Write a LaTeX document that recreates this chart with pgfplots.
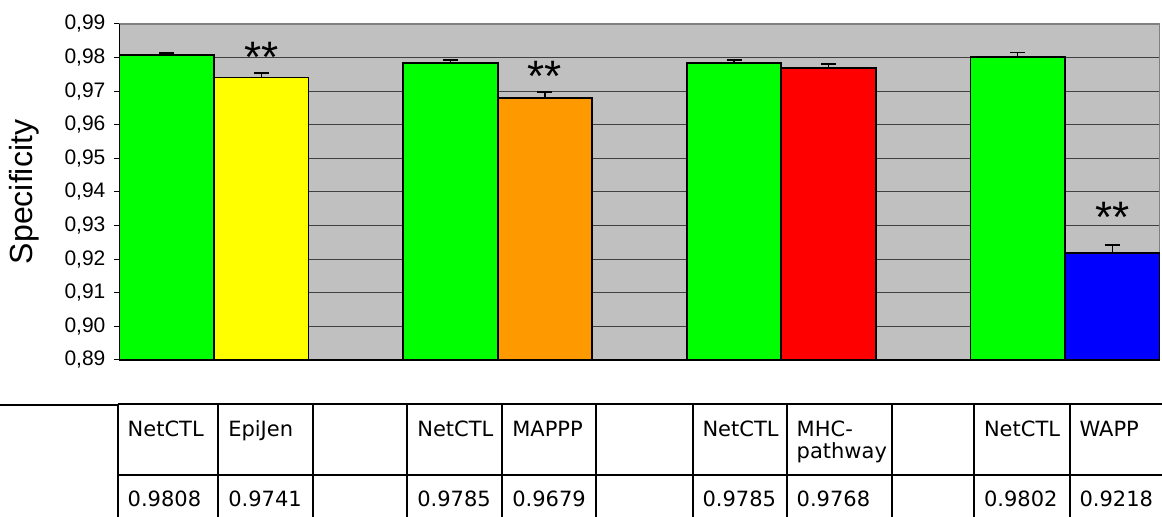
\documentclass[border=0pt]{standalone}
\usepackage{pgfplots}
\pgfplotsset{compat=1.18}
\usepackage{fontspec}
\setmainfont{Liberation Sans}
\newfontfamily\tablefont{DejaVu Sans}

\definecolor{barGreen}{HTML}{00FF00}
\definecolor{barYellow}{HTML}{FFFF00}
\definecolor{barOrange}{HTML}{FF9900}
\definecolor{barRed}{HTML}{FF0000}
\definecolor{barBlue}{HTML}{0000FF}
\definecolor{plotBg}{HTML}{C0C0C0}

\begin{document}
\begin{tikzpicture}
\path[use as bounding box] (0,0) rectangle (581pt,-258.5pt);

\begin{axis}[
    at={(59.75pt,-180pt)}, anchor=south west,
    scale only axis,
    width=520pt, height=168pt,
    ybar=0pt,
    bar width=0.3333,
    xmin=-0.3333, xmax=3.3333,
    ymin=0.89, ymax=0.99,
    ytick={0.89,0.90,...,0.995},
    xtick=\empty,
    ytick pos=left,
    tick align=outside,
    major tick length=2.5pt,
    tick style={black, line width=0.5pt},
    yticklabel style={
        /pgf/number format/.cd, fixed, fixed zerofill, precision=2, use comma, assume math mode=true,
        /tikz/.cd, font=\fontsize{10.5}{12}\selectfont, xshift=-1pt},
    ylabel={Specificity},
    every axis y label/.style={at={(rel axis cs:0,0.5)}, xshift=-47.75pt, rotate=90, anchor=center,
        font=\fontsize{16}{19}\selectfont},
    axis background/.style={fill=plotBg},
    axis line style={draw=gray, line width=0.75pt},
    ymajorgrids,
    major grid style={black!75, line width=0.5pt},
    clip=false,
    every axis plot/.append style={draw=black, line width=0.9pt},
    error bars/y dir=plus,
    error bars/y explicit,
    error bars/error bar style={black, line width=0.6pt},
    error bars/error mark options={black, line width=0.9pt, mark size=3.75pt, rotate=90},
]
% NetCTL
\addplot[fill=barGreen, bar shift=-0.16667] coordinates {
    (0,0.9808) +- (0,0.0005)
    (1,0.9785) +- (0,0.0008)
    (2,0.9785) +- (0,0.0008)
    (3,0.9802) +- (0,0.0013)
};
% EpiJen
\addplot[fill=barYellow, bar shift=0.16667] coordinates {(0,0.9741) +- (0,0.0013)};
% MAPPP
\addplot[fill=barOrange, bar shift=0.16667] coordinates {(1,0.9679) +- (0,0.0019)};
% MHC-pathway
\addplot[fill=barRed, bar shift=0.16667] coordinates {(2,0.9768) +- (0,0.0012)};
% WAPP
\addplot[fill=barBlue, bar shift=0.16667] coordinates {(3,0.9218) +- (0,0.0024)};

\draw[black, line width=0.75pt] (rel axis cs:0,1) -- (rel axis cs:0,0) -- (rel axis cs:1,0);

\node[anchor=base, font=\fontsize{22}{26}\selectfont, inner sep=0pt] at (axis cs:0.16667,0.9757) {**};
\node[anchor=base, font=\fontsize{22}{26}\selectfont, inner sep=0pt] at (axis cs:1.16667,0.9698) {**};
\node[anchor=base, font=\fontsize{22}{26}\selectfont, inner sep=0pt] at (axis cs:3.16667,0.9279) {**};
\end{axis}

% data table under the chart (pixel units)
\begin{scope}[x=0.5pt, y=-0.5pt, line width=1pt]
\clip (0,0) rectangle (1162,517);
\draw (0,405.5) -- (116.7,405.5);
\draw (117.7,404.5) -- (1170,404.5);
\draw (117.7,475) -- (1170,475);
\foreach \xx in {117.7,218.3,312.7,407.3,502.3,596,692.5,786.7,892.3,974,1069.5}
    \draw (\xx,404.5) -- (\xx,530);
\begin{scope}[every node/.style={anchor=base west, inner sep=0pt, font=\tablefont\fontsize{10.5}{12.6}\selectfont}]
\node at (126.7,436.7) {NetCTL};   \node at (126.7,506.7) {0.9808};
\node at (227.3,436.7) {EpiJen};   \node at (227.3,506.7) {0.9741};
\node at (416.3,436.7) {NetCTL};   \node at (416.3,506.7) {0.9785};
\node at (511.3,436.7) {MAPPP};    \node at (511.3,506.7) {0.9679};
\node at (701.5,436.7) {NetCTL};   \node at (701.5,506.7) {0.9785};
\node at (795.7,436.7) {MHC-};     \node at (795.7,458.5) {pathway};
\node at (795.7,506.7) {0.9768};
\node at (983,436.7) {NetCTL};     \node at (983,506.7) {0.9802};
\node at (1078.5,436.7) {WAPP};    \node at (1078.5,506.7) {0.9218};
\end{scope}
\end{scope}
\end{tikzpicture}
\end{document}
